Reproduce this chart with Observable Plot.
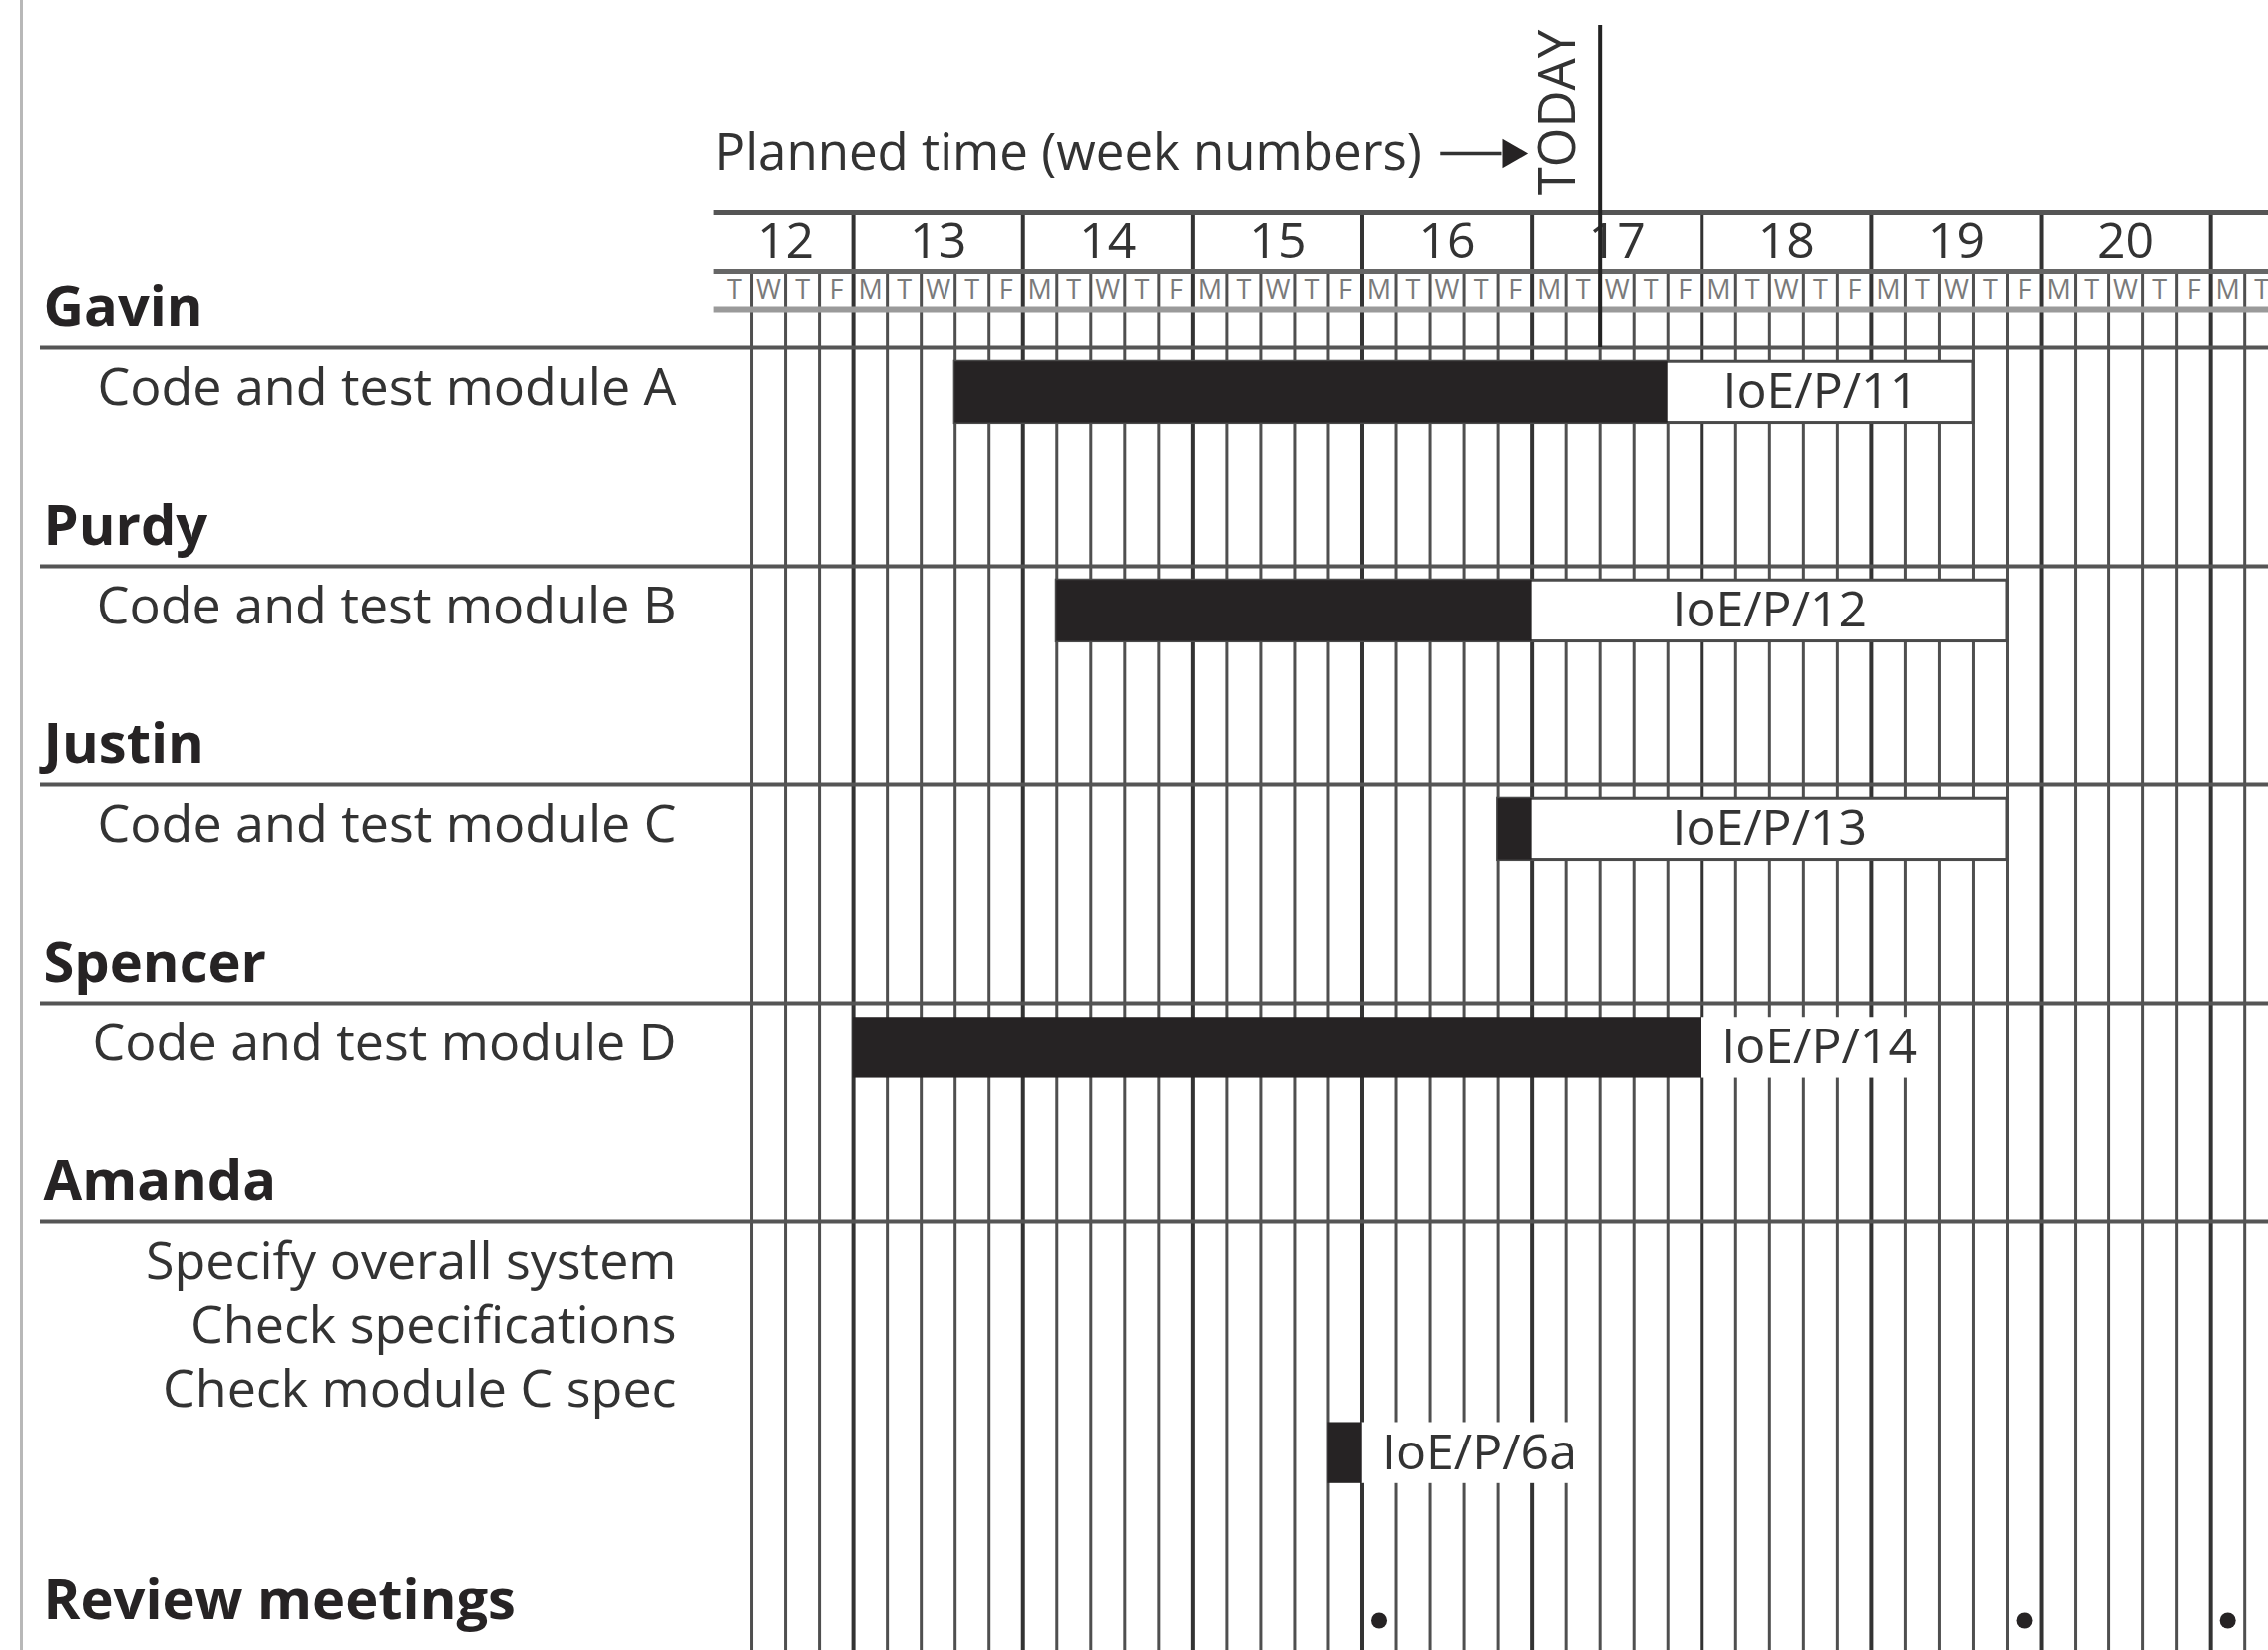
<!DOCTYPE html>
<html>
<head>
<meta charset="utf-8">
<script src="https://cdn.jsdelivr.net/npm/d3@7"></script>
<script src="https://cdn.jsdelivr.net/npm/@observablehq/plot@0.6"></script>
<style>
  html, body { margin: 0; padding: 0; background: #fff; overflow: hidden; }
  #wrap { position: relative; width: 2274px; height: 1654px; }
  #wrap::before { content: ""; position: absolute; left: 20px; top: 0; width: 3px; height: 1654px; background: #b8b8b8; }
  #wrap svg { display: block; }
</style>
</head>
<body>
<div id="wrap"></div>
<script>
// ---------------- data ----------------
const weeks = [12, 13, 14, 15, 16, 17, 18, 19, 20];
const dayLetters = ["M", "T", "W", "T", "F"];
const dayNames = ["Mon", "Tue", "Wed", "Thu", "Fri"];
const firstVisibleDay = "12 Tue";

const people = ["Gavin", "Purdy", "Justin", "Spencer", "Amanda"];
const tasks = ["Code and test module A", "Code and test module B", "Code and test module C",
               "Code and test module D", "Specify overall system", "Check specifications", "Check module C spec"];
const taskOwner = ["Gavin", "Purdy", "Justin", "Spencer", "Amanda", "Amanda", "Amanda"];

const barRef = ["IoE/P/11", "IoE/P/12", "IoE/P/13", "IoE/P/14", "IoE/P/6a"];
const barOwner = ["Gavin", "Purdy", "Justin", "Spencer", "Amanda"];
const barStart = ["13 Thu", "14 Tue", "16 Fri", "13 Mon", "15 Fri"];
const barDoneThrough = ["17 Thu", "16 Fri", "16 Fri", "17 Fri", "15 Fri"];
const barPlannedThrough = ["19 Wed", "19 Thu", "19 Thu", "17 Fri", "15 Fri"];

const today = "17 Wed";
const reviewLabel = "Review meetings";
const reviewMeetings = ["16 Mon", "19 Fri", "21 Mon"];
const headerText = "Planned time (week numbers)";
const todayText = "TODAY";

// ---------------- helpers / layout ----------------
const W = 2274, H = 1654;
const dayIndex = s => { const [w, d] = s.split(" "); return (+w - 12) * 5 + dayNames.indexOf(d); };
const x0 = dayIndex(firstVisibleDay);          // left edge of time grid
const xMax = 46.7;                               // grid runs off the right edge
const U = 21.9, Y0 = 348;                        // layout unit (px) and origin
const py = px => (px - Y0) / U;
const yBottom = py(H);
const TASK_STEP = 2.92;                          // task text line spacing (units)
const BAR_STEP = 2.85;                           // bar line spacing (units)

const hdrTop = py(213), weekNumY = py(242), dayTop = py(272), dayLetterY = py(291), dayBottom = py(310);
const plannedY = py(153), todayTextY = py(112), todayTop = py(25);

const todayX = dayIndex(today);

// vertical grid
const boundaries = d3.range(x0 + 1, Math.floor(xMax) + 1);
const weekLines = boundaries.filter(d => d % 5 === 0);
const dayLines = boundaries.filter(d => d % 5 !== 0);

const weekCells = weeks.map(w => {
  const s = Math.max((w - 12) * 5, x0), e = (w - 12) * 5 + 5;
  return {label: String(w), x: (s + e) / 2};
});
const dayCells = d3.range(x0, Math.ceil(xMax)).map(d => ({label: dayLetters[d % 5], x: d + 0.5}));

// rows
const nameRows = people.map((p, k) => ({label: p, y: 10 * k - 1.8, line: 10 * k}));
const taskRows = tasks.map((t, i) => {
  const k = people.indexOf(taskOwner[i]);
  const j = tasks.slice(0, i).filter((_, m) => taskOwner[m] === taskOwner[i]).length;
  return {label: t, y: 10 * k + 1.88 + TASK_STEP * j};
});
const bars = barRef.map((ref, i) => {
  const owner = barOwner[i];
  const k = people.indexOf(owner);
  const n = taskOwner.filter(o => o === owner).length;
  const line = n > 1 ? n : 0;
  const c = 10 * k + 2.05 + BAR_STEP * line;
  const start = dayIndex(barStart[i]);
  const done = dayIndex(barDoneThrough[i]) + 1;
  const end = dayIndex(barPlannedThrough[i]) + 1;
  return {ref, start, done, end, y1: c - 1.4, y2: c + 1.4, yc: c, boxed: end > done};
});
const boxed = bars.filter(b => b.boxed);
const unboxed = bars.filter(b => !b.boxed);
const reviewY = py(1605), reviewDotY = py(1624);

const ink = "#262324";

const chart = Plot.plot({
  width: W, height: H,
  marginLeft: 40, marginRight: 0, marginTop: 0, marginBottom: 0,
  x: {domain: [x0, xMax], range: [719, W], axis: null},
  y: {domain: [py(0), yBottom], range: [0, H], axis: null},
  style: {fontFamily: "'Open Sans', sans-serif", background: "white", color: ink},
  marks: [
    // grid
    Plot.ruleX(dayLines, {x: d => d, y1: dayTop, y2: yBottom, stroke: "#4f4f4f", strokeWidth: 3}),
    Plot.ruleX(weekLines, {x: d => d, y1: hdrTop, y2: yBottom, stroke: "#333", strokeWidth: 4}),
    // header rules
    Plot.ruleY([hdrTop], {y: d => d, x1: x0 - 0.1, x2: xMax, stroke: "#555", strokeWidth: 5}),
    Plot.ruleY([dayTop], {y: d => d, x1: x0 - 0.1, x2: xMax, stroke: "#666", strokeWidth: 5}),
    Plot.ruleY([dayBottom], {y: d => d, x1: x0 - 0.1, x2: xMax, stroke: "#9a9a9a", strokeWidth: 6}),
    // person rules
    Plot.ruleY(nameRows, {y: "line", stroke: "#555", strokeWidth: 4}),
    // header texts
    Plot.text(weekCells, {x: "x", y: weekNumY, text: "label", fontSize: 50, fill: "#333"}),
    Plot.text(dayCells, {x: "x", y: dayLetterY, text: "label", fontSize: 27, fill: "#7a7a7a"}),
    Plot.text([headerText], {x: x0, y: plannedY, text: d => d, textAnchor: "start", dx: -3, fontSize: 51, fill: "#333"}),
    Plot.link([todayX], {x1: d => d - 4.7, x2: d => d - 2.9, y1: plannedY, y2: plannedY, stroke: "#333", strokeWidth: 3.5}),
    Plot.dot([todayX], {x: d => d - 2.62, y: plannedY, symbol: "triangle", r: 11, rotate: 90, fill: ink, stroke: "none"}),
    Plot.text([todayText], {x: todayX - 1.22, y: todayTextY, text: d => d, rotate: -90, fontSize: 51, fill: "#333"}),
    Plot.ruleX([todayX], {x: d => d, y1: todayTop, y2: 0, stroke: "#222", strokeWidth: 4}),
    // bars
    Plot.rect(unboxed, {x1: "done", x2: b => b.done + 6.6, y1: "y1", y2: "y2", fill: "white"}),
    Plot.rect(boxed, {x1: "start", x2: "end", y1: "y1", y2: "y2", fill: "white", stroke: "#4a4a4a", strokeWidth: 3}),
    Plot.rect(bars, {x1: "start", x2: "done", y1: "y1", y2: "y2", fill: ink}),
    Plot.text(boxed, {x: b => (b.done + b.end) / 2, y: "yc", text: "ref", fontSize: 50, fill: "#333"}),
    Plot.text(unboxed, {x: "done", y: "yc", text: "ref", textAnchor: "start", dx: 20, fontSize: 50, fill: "#333"}),
    // left labels
    Plot.text(nameRows, {frameAnchor: "left", y: "y", text: "label", textAnchor: "start", dx: 3, fontSize: 56, fontWeight: "bold", fill: ink}),
    Plot.text([reviewLabel], {frameAnchor: "left", y: reviewY, text: d => d, textAnchor: "start", dx: 3, fontSize: 56, fontWeight: "bold", fill: ink}),
    Plot.text(taskRows, {frameAnchor: "left", y: "y", text: "label", textAnchor: "end", dx: 638, fontSize: 52, fill: "#333"}),
    // review meetings
    Plot.dot(reviewMeetings, {x: d => dayIndex(d) + 0.5, y: reviewDotY, r: 8, fill: ink, stroke: "none"})
  ]
});
document.getElementById("wrap").appendChild(chart);
</script>
</body>
</html>
